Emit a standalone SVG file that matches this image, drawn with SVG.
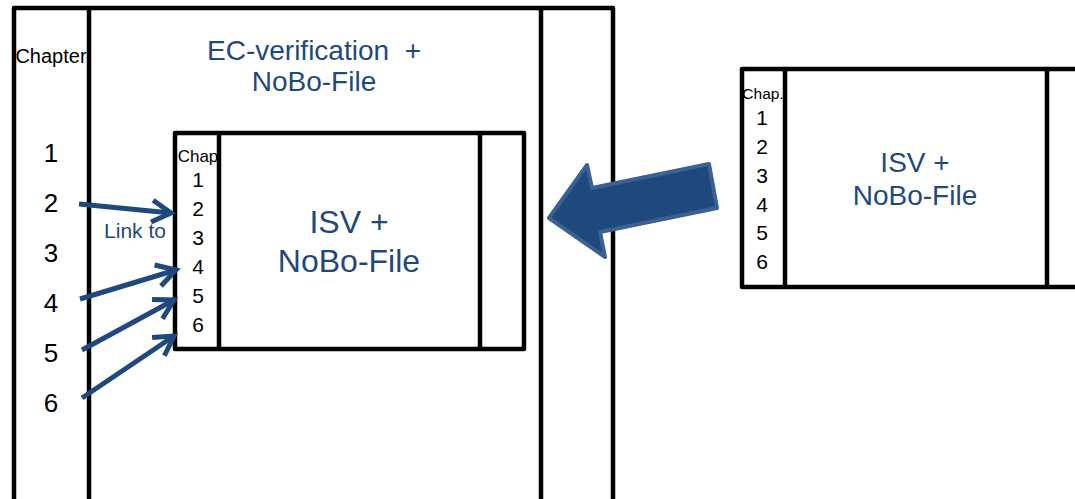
<svg xmlns="http://www.w3.org/2000/svg" width="1075" height="499" viewBox="0 0 1075 499">
  <style>
    .frame { fill: none; stroke: #000; stroke-width: 4.5; stroke-linejoin: round; }
    .rule { stroke: #000; stroke-width: 4.5; }
    .num { font-family: "Liberation Sans", Arial, sans-serif; fill: #000; text-anchor: middle; }
    .blue { font-family: "Liberation Sans", Arial, sans-serif; fill: #1F497D; text-anchor: middle; }
    .link { fill: none; stroke: #1F497D; stroke-width: 5; stroke-linecap: butt; }
  </style>
  <defs>
    <marker id="open-head" markerUnits="userSpaceOnUse" orient="auto" viewBox="-24 -16 28 32" refX="0" refY="0" markerWidth="28" markerHeight="32" overflow="visible">
      <path d="M-19,-11 L0,0 L-19,11" fill="none" stroke="#1F497D" stroke-width="5" stroke-linejoin="miter"/>
    </marker>
  </defs>
  <rect width="1075" height="499" fill="#fff"/>

  <!-- EC-verification document with chapter column -->
  <g id="ec-verification">
    <rect class="frame" x="14" y="8" width="599" height="510"/>
    <line class="rule" x1="89" y1="8" x2="89" y2="510"/>
    <line class="rule" x1="541" y1="8" x2="541" y2="510"/>
    <text class="num" x="51" y="63" font-size="20">Chapter</text>
    <text class="num" x="51" y="162" font-size="26">1</text>
    <text class="num" x="51" y="212" font-size="26">2</text>
    <text class="num" x="51" y="262" font-size="26">3</text>
    <text class="num" x="51" y="312" font-size="26">4</text>
    <text class="num" x="51" y="362" font-size="26">5</text>
    <text class="num" x="51" y="412" font-size="26">6</text>
    <text class="blue" x="314" y="60" font-size="28" xml:space="preserve">EC-verification  +</text>
    <text class="blue" x="314" y="91" font-size="28">NoBo-File</text>
  </g>

  <!-- embedded ISV document -->
  <g id="isv-embedded">
    <rect class="frame" x="175" y="133" width="349" height="216" fill="#fff"/>
    <line class="rule" x1="219" y1="133" x2="219" y2="349"/>
    <line class="rule" x1="480" y1="133" x2="480" y2="349"/>
    <text class="num" x="198" y="162" font-size="17">Chap</text>
    <text class="num" x="198" y="187" font-size="21">1</text>
    <text class="num" x="198" y="216" font-size="21">2</text>
    <text class="num" x="198" y="245" font-size="21">3</text>
    <text class="num" x="198" y="274" font-size="21">4</text>
    <text class="num" x="198" y="303" font-size="21">5</text>
    <text class="num" x="198" y="332" font-size="21">6</text>
    <text class="blue" x="349" y="233" font-size="32">ISV +</text>
    <text class="blue" x="349" y="272" font-size="32">NoBo-File</text>
  </g>

  <!-- standalone ISV document -->
  <g id="isv-standalone">
    <rect class="frame" x="742" y="69" width="400" height="218"/>
    <line class="rule" x1="785" y1="69" x2="785" y2="287"/>
    <line class="rule" x1="1047" y1="69" x2="1047" y2="287"/>
    <text class="num" x="763" y="99" font-size="15.5">Chap.</text>
    <text class="num" x="762" y="125" font-size="21">1</text>
    <text class="num" x="762" y="154" font-size="21">2</text>
    <text class="num" x="762" y="183" font-size="21">3</text>
    <text class="num" x="762" y="212" font-size="21">4</text>
    <text class="num" x="762" y="240" font-size="21">5</text>
    <text class="num" x="762" y="269" font-size="21">6</text>
    <text class="blue" x="915" y="172" font-size="28">ISV +</text>
    <text class="blue" x="915" y="205" font-size="28">NoBo-File</text>
  </g>

  <!-- chapter links and insertion arrow -->
  <g id="connectors">
    <line class="link" x1="79" y1="204" x2="171" y2="213" marker-end="url(#open-head)"/>
    <line class="link" x1="80" y1="299" x2="176" y2="270" marker-end="url(#open-head)"/>
    <line class="link" x1="82" y1="350" x2="174" y2="300" marker-end="url(#open-head)"/>
    <line class="link" x1="82" y1="398" x2="174" y2="336" marker-end="url(#open-head)"/>
    <text class="blue" x="135" y="238" font-size="21">Link to</text>
    <polygon points="549,218 587,165 592,188 709,164 717,208 600,232 605,257" fill="#1F497D" stroke="#3A6192" stroke-width="4" stroke-linejoin="round"/>
  </g>
</svg>
